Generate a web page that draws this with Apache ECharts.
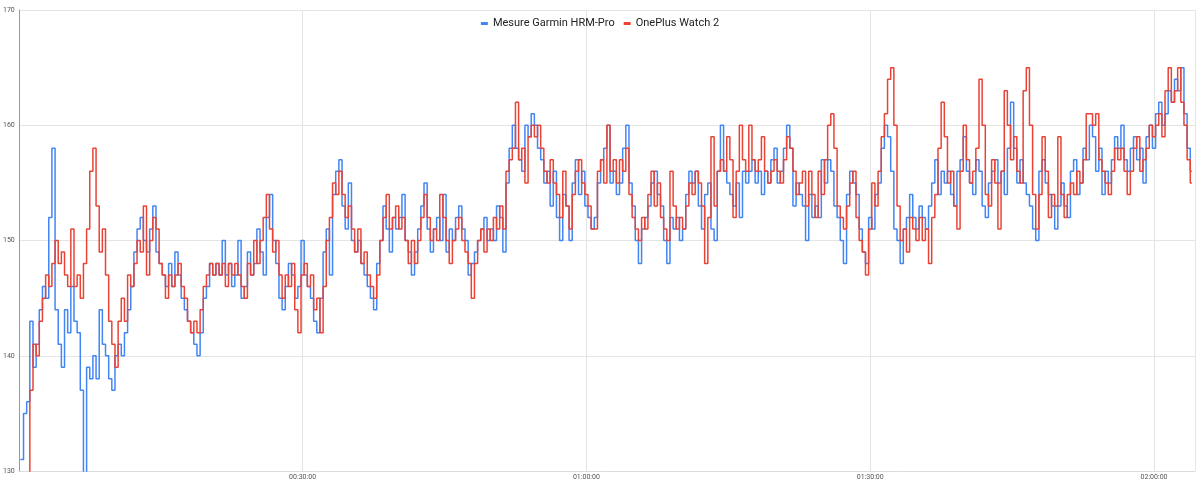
<!DOCTYPE html>
<html>
<head>
<meta charset="utf-8">
<script src="https://cdn.jsdelivr.net/npm/echarts@6/dist/echarts.min.js"></script>
<style>
html,body{margin:0;padding:0;background:#fff;}
#chart{width:1200px;height:487px;}
</style>
</head>
<body>
<div id="chart"></div>
<script>
// sample spacing in seconds (x axis is elapsed time)
const STEP = 20;
const seriesNames = ['Mesure Garmin HRM-Pro', 'OnePlus Watch 2'];
const yTicks = [130, 140, 150, 160, 170];
const xTickSeconds = [1800, 3600, 5400, 7200];

const garmin = [
null,131,135,136,143,139,141,144,146,145,
152,158,144,141,139,144,142,146,143,142,
137,129,139,138,140,138,144,141,140,138,
137,140,141,140,142,144,146,149,151,152,
150,149,151,153,149,148,147,146,148,146,
149,147,145,144,143,142,141,140,142,145,
146,148,147,148,147,150,147,148,146,147,
150,145,146,149,147,148,151,149,147,152,
154,150,148,145,144,146,148,147,145,146,
150,147,146,145,143,142,145,149,151,147,
154,156,157,153,151,155,150,149,150,148,
147,146,145,144,148,150,153,151,149,152,
151,152,154,150,149,147,149,151,153,155,
151,149,151,152,150,154,149,151,150,152,
153,151,150,147,148,149,150,151,152,150,
151,150,153,152,149,155,158,160,158,157,
156,160,159,161,160,158,157,155,156,153,
156,152,150,154,153,150,155,157,154,156,
153,152,151,152,155,157,158,160,155,156,
154,155,158,160,155,153,150,148,151,152,
153,155,156,154,153,150,148,152,151,152,
150,151,154,156,155,156,153,151,154,155,
151,150,156,160,156,155,154,153,155,152,
156,155,156,157,155,156,154,156,155,157,
158,155,156,158,160,158,153,155,154,153,
150,154,152,153,152,157,155,157,156,153,
152,150,148,154,156,155,154,151,149,148,
152,151,154,155,158,160,159,156,151,150,
148,151,152,154,152,151,153,152,151,153,
155,157,154,156,155,156,154,153,156,157,
159,156,155,154,157,156,153,152,155,156,
157,155,156,154,158,162,158,155,157,155,
154,153,151,150,156,157,155,154,153,151,
153,155,153,152,156,157,154,155,158,157,
160,159,156,158,154,156,155,157,159,158,
160,157,156,158,159,157,158,155,159,160,
158,161,162,160,161,163,162,164,163,165,
161,158,156
];

const oneplus = [
null,null,null,129,137,141,140,143,145,147,
146,148,150,148,149,147,146,151,146,147,
145,148,151,156,158,153,149,151,147,143,
141,139,143,145,143,147,146,148,150,149,
153,147,150,152,151,148,147,145,147,146,
147,148,146,145,143,142,143,142,144,146,
147,148,147,148,147,148,146,148,147,148,
147,146,145,148,147,150,148,150,152,154,
151,149,150,147,145,147,146,148,144,142,
147,148,146,147,144,145,142,146,150,152,
155,154,156,154,152,153,151,149,151,148,
149,147,146,145,147,150,152,154,151,152,
153,151,152,150,148,150,148,150,152,154,
152,150,151,150,154,152,150,148,150,151,
152,150,149,148,145,148,150,151,149,151,
150,152,151,153,151,156,157,158,162,157,
158,155,159,160,159,160,158,156,155,157,
155,154,152,156,153,151,154,156,157,155,
154,153,151,151,156,157,155,160,156,157,
155,157,156,158,154,152,151,150,152,151,
154,156,153,155,152,151,150,156,153,151,
152,151,153,155,154,156,155,153,148,152,
159,153,156,157,156,159,157,152,156,160,
157,156,160,157,156,157,159,156,155,156,
157,156,155,157,159,158,156,154,155,156,
153,156,154,152,156,154,157,160,161,158,
153,152,151,153,155,156,152,150,149,147,
151,155,153,156,159,161,164,165,160,153,
150,151,149,152,151,150,152,150,151,148,
152,154,158,162,159,155,156,153,151,156,
160,157,155,156,158,164,160,154,153,157,
155,151,156,163,160,157,159,156,155,163,
165,160,154,151,154,159,156,152,154,153,
159,154,152,154,155,154,156,155,157,161,
161,160,161,157,156,155,154,156,158,157,
158,156,154,156,158,159,156,157,158,160,
159,160,161,159,163,165,162,163,165,162,
160,157,155
];

function pairs(arr) {
  return arr.map((v, i) => [i * STEP, v]);
}
function hms(s) {
  const h = Math.floor(s / 3600), m = Math.floor((s % 3600) / 60), sec = s % 60;
  const p = n => String(n).padStart(2, '0');
  return p(h) + ':' + p(m) + ':' + p(sec);
}

const chart = echarts.init(document.getElementById('chart'), null, {renderer: 'canvas'});
chart.setOption({
  animation: false,
  backgroundColor: '#ffffff',
  textStyle: {fontFamily: 'Roboto, Arial, sans-serif'},
  legend: {
    top: 13,
    left: 'center',
    icon: 'rect',
    itemWidth: 7,
    itemHeight: 3,
    itemGap: 9,
    textStyle: {fontSize: 11, color: '#222222', fontFamily: 'Roboto, Arial, sans-serif'},
    data: seriesNames
  },
  grid: {left: 18, right: 5, top: 10, bottom: 16, containLabel: false},
  xAxis: {
    type: 'value',
    min: 0,
    max: 7460,
    interval: 1800,
    axisLine: {show: true, lineStyle: {color: '#dcdcdc'}},
    axisTick: {show: false},
    splitLine: {show: true, lineStyle: {color: '#e4e4e4', width: 1}},
    axisLabel: {
      fontSize: 7,
      color: '#555',
      margin: 3,
      showMinLabel: false,
      showMaxLabel: false,
      formatter: v => (xTickSeconds.indexOf(v) >= 0 ? hms(v) : '')
    }
  },
  yAxis: {
    type: 'value',
    min: yTicks[0],
    max: yTicks[yTicks.length - 1],
    interval: 10,
    axisLine: {show: true, lineStyle: {color: '#999999'}},
    axisTick: {show: false},
    splitLine: {show: true, lineStyle: {color: '#e4e4e4', width: 1}},
    axisLabel: {fontSize: 7, color: '#555', margin: 4}
  },
  series: [
    {
      name: seriesNames[0],
      type: 'line',
      data: pairs(garmin),
      showSymbol: false,
      symbol: 'none',
      step: 'middle',
      lineStyle: {color: '#4285F4', width: 1.5},
      itemStyle: {color: '#4285F4'},
      clip: true
    },
    {
      name: seriesNames[1],
      type: 'line',
      data: pairs(oneplus),
      showSymbol: false,
      symbol: 'none',
      step: 'middle',
      lineStyle: {color: '#EA4335', width: 1.5},
      itemStyle: {color: '#EA4335'},
      clip: true
    }
  ]
});
</script>
</body>
</html>
